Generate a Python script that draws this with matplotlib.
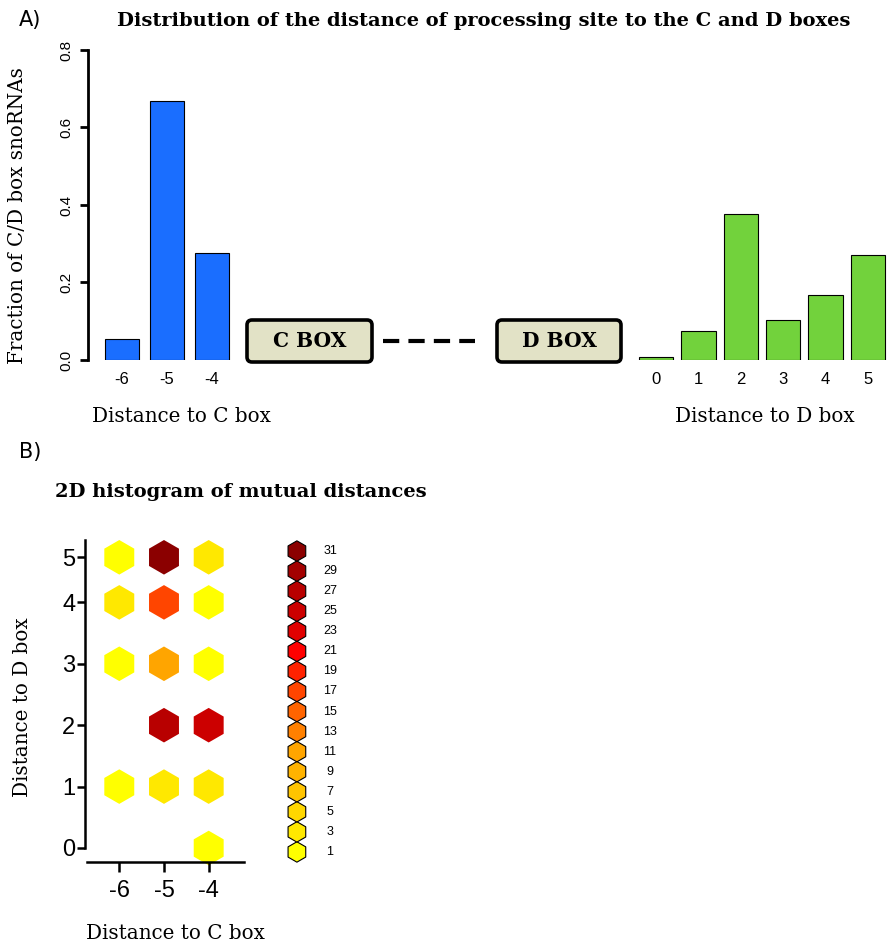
import numpy as np
import matplotlib
matplotlib.use("Agg")
import matplotlib.pyplot as plt
from matplotlib.colors import ListedColormap, BoundaryNorm
from matplotlib.patches import FancyBboxPatch

# --- data ---
c_dist = [-6, -5, -4]
c_frac = [0.054, 0.669, 0.277]
d_dist = [0, 1, 2, 3, 4, 5]
d_frac = [0.008, 0.075, 0.378, 0.102, 0.169, 0.270]

# 2D histogram cells: distance to C box, distance to D box, count
hex_c = [-6, -5, -4, -6, -5, -4, -6, -5, -4, -5, -4, -6, -5, -4, -4]
hex_d = [5, 5, 5, 4, 4, 4, 3, 3, 3, 2, 2, 1, 1, 1, 0]
hex_n = [1, 31, 3, 3, 17, 1, 1, 11, 1, 27, 25, 1, 3, 3, 1]

legend_counts = list(range(1, 32, 2))
legend_colors = ["#FFFF00", "#FFE800", "#FFD700", "#FFC400", "#FFB300", "#FFA500",
                 "#FF8000", "#FF6400", "#FF4500", "#FF2200", "#FF0000", "#E00000",
                 "#CC0000", "#B80000", "#A30000", "#8B0000"]

SERIF = "DejaVu Serif"
plt.rcParams["font.family"] = ["Liberation Sans", "DejaVu Sans"]

W, H = 888, 947
fig = plt.figure(figsize=(W / 100, H / 100), dpi=100)


def px_axes(x0, y0, x1, y1):
    return fig.add_axes([x0 / W, 1 - y1 / H, (x1 - x0) / W, (y1 - y0) / H])


def px_text(x, y, s, **kw):
    kw.setdefault("ha", "center")
    kw.setdefault("va", "center")
    return fig.text(x / W, 1 - y / H, s, **kw)


# ---------------- panel A ----------------
ax_c = px_axes(87.5, 50, 233.9, 360)
xc = np.arange(len(c_dist))
ax_c.bar(xc, c_frac, width=0.76, color="#1A6EFF", edgecolor="black", linewidth=0.8)
ax_c.set_xlim(-0.77, 2.5)
ax_c.set_ylim(0, 0.8)
ax_c.set_xticks(xc, [str(v) for v in c_dist])
ax_c.set_yticks([0, 0.2, 0.4, 0.6, 0.8], ["0.0", "0.2", "0.4", "0.6", "0.8"])
for s in ["top", "right", "bottom"]:
    ax_c.spines[s].set_visible(False)
ax_c.spines["left"].set_linewidth(2)
ax_c.tick_params(axis="y", length=6, width=2, pad=4, labelsize=11, labelrotation=90)
ax_c.tick_params(axis="x", length=0, pad=9, labelsize=12)
for lab in ax_c.get_yticklabels():
    lab.set_va("center")

ax_d = px_axes(634.8, 50, 634.8 + 5.95 * 42.4, 360)
xd = np.arange(len(d_dist))
ax_d.bar(xd, d_frac, width=0.81, color="#72D23C", edgecolor="black", linewidth=0.8)
ax_d.set_xlim(-0.5, 5.45)
ax_d.set_ylim(0, 0.8)
ax_d.set_xticks(xd, [str(v) for v in d_dist])
ax_d.set_yticks([])
for s in ax_d.spines.values():
    s.set_visible(False)
ax_d.tick_params(axis="x", length=0, pad=9, labelsize=12)

# C box / D box schematic
ax_m = px_axes(237, 300, 632, 380)
ax_m.set_xlim(237, 632)
ax_m.set_ylim(380, 300)
ax_m.axis("off")
for x0, w, name in [(247, 125, "C BOX"), (497, 124, "D BOX")]:
    ax_m.add_patch(FancyBboxPatch((x0, 320), w, 42, boxstyle="round,pad=0,rounding_size=5",
                                  facecolor="#E2E2C6", edgecolor="black", linewidth=2.6))
    ax_m.text(x0 + w / 2, 341, name, ha="center", va="center", fontsize=14.5,
              fontweight="bold", family=SERIF)
ax_m.plot([383, 475], [341, 341], color="black", linewidth=3,
          linestyle=(0, (3.9, 2.2)), solid_capstyle="butt", dash_capstyle="butt")

px_text(30, 20, "A)", fontsize=15, family="DejaVu Sans")
px_text(484, 21, "Distribution of the distance of processing site to the C and D boxes",
        fontsize=14, fontweight="bold", family=SERIF)
px_text(18, 216, "Fraction of C/D box snoRNAs", rotation=90, fontsize=14.3, family=SERIF)
px_text(181, 417, "Distance to C box", fontsize=14.3, family=SERIF)
px_text(765, 417, "Distance to D box", fontsize=14.3, family=SERIF)

# ---------------- panel B ----------------
k = 0.734  # the reference squeezes the top row of the axis


def fwd(y):
    y = np.asarray(y, dtype=float)
    return np.where(y <= 4, y, 4 + (y - 4) * k)


def inv(u):
    u = np.asarray(u, dtype=float)
    return np.where(u <= 4, u, 4 + (u - 4) / k)


cmap = ListedColormap(legend_colors)
norm = BoundaryNorm(np.arange(0, 33, 2), cmap.N)

ax_h = px_axes(85, 540, 244, 862)
ax_h.set_yscale("function", functions=(fwd, inv))
ax_h.scatter(hex_c, hex_d, c=hex_n, cmap=cmap, norm=norm, marker="h", s=620,
             linewidths=0, clip_on=False)
ax_h.set_xlim(-6.767, -3.21)
ax_h.set_ylim(-0.228, 5.384)
ax_h.set_xticks(c_dist, [str(v) for v in c_dist])
ax_h.set_yticks(d_dist, [str(v) for v in d_dist])
ax_h.spines["top"].set_visible(False)
ax_h.spines["right"].set_visible(False)
ax_h.spines["left"].set_bounds(0, 5.384)
ax_h.spines["bottom"].set_bounds(-6.72, -3.21)
for s in ["left", "bottom"]:
    ax_h.spines[s].set_linewidth(1.8)
ax_h.tick_params(axis="y", length=6, width=1.8, pad=1, labelsize=17)
ax_h.tick_params(axis="x", length=7, width=1.8, pad=6, labelsize=17)

ax_l = px_axes(280, 540, 345, 862)
ax_l.set_xlim(0, 1)
ax_l.set_ylim(0, 32.1)
ax_l.axis("off")
ax_l.scatter(np.full(len(legend_counts), 0.26), legend_counts, c=legend_colors,
             marker="h", s=216, edgecolors="black", linewidths=0.8, clip_on=False)
for v in legend_counts:
    ax_l.text(0.77, v, str(v), ha="center", va="center", fontsize=9)

px_text(30, 452, "B)", fontsize=15, family="DejaVu Sans")
px_text(241, 492, "2D histogram of mutual distances", fontsize=14,
        fontweight="bold", family=SERIF)
px_text(22, 707, "Distance to D box", rotation=90, fontsize=14.3, family=SERIF)
px_text(175, 933, "Distance to C box", fontsize=14.3, family=SERIF)

fig.savefig("out.png", dpi=100)
